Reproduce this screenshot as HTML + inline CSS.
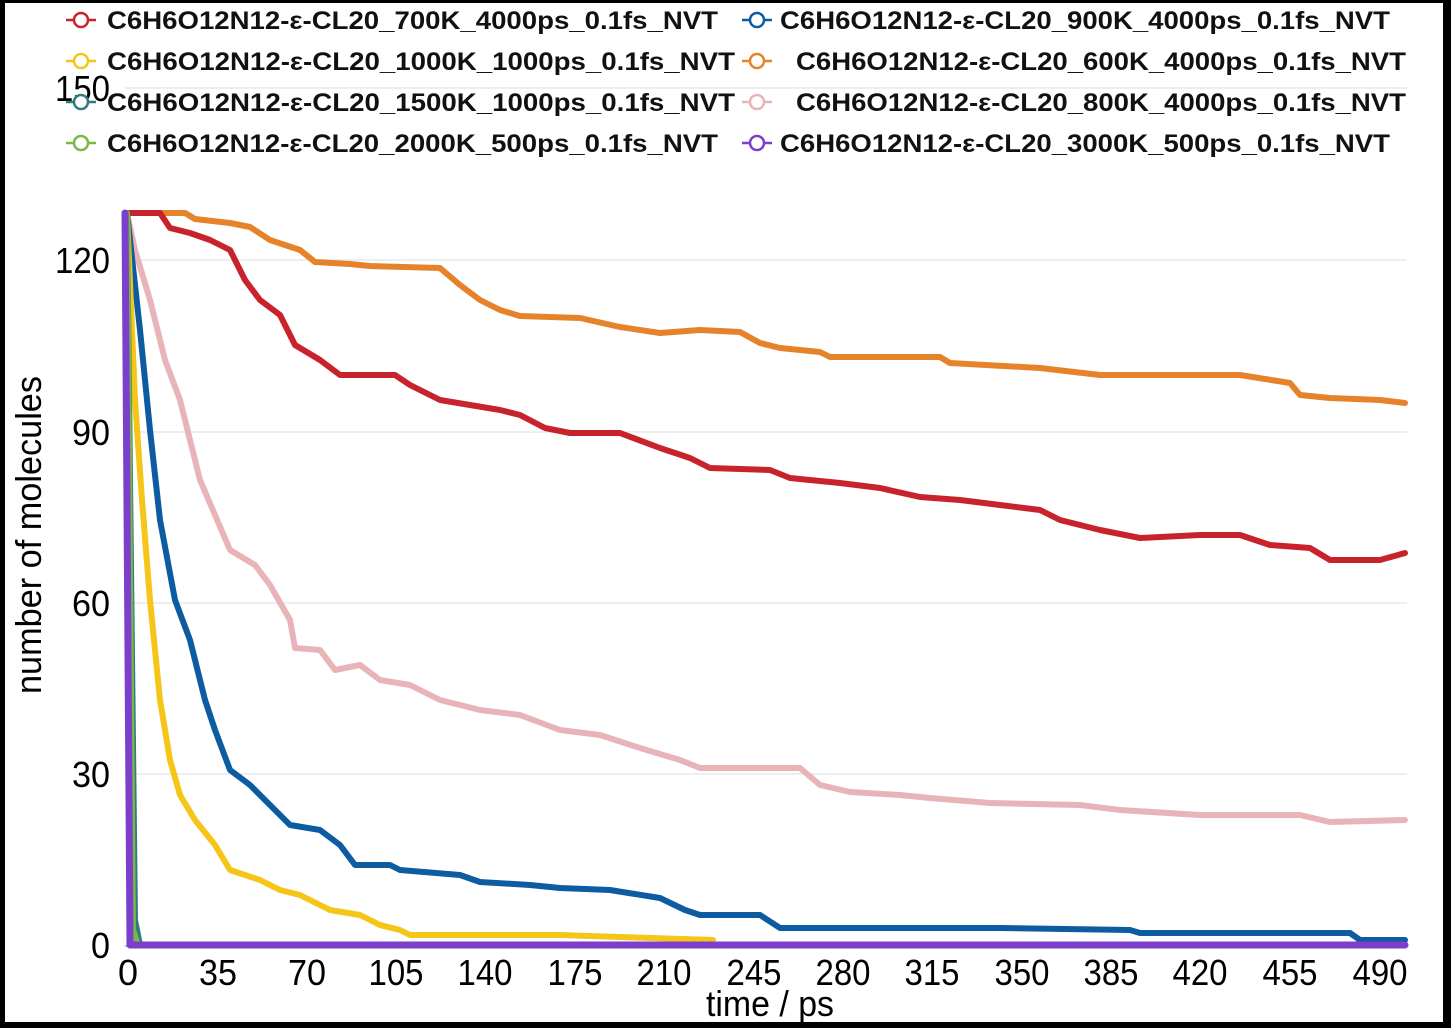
<!DOCTYPE html>
<html><head><meta charset="utf-8"><style>
html,body{margin:0;padding:0;background:#fff}
svg{display:block}
</style></head><body>
<svg width="1451" height="1028" viewBox="0 0 1451 1028" xmlns="http://www.w3.org/2000/svg">
<rect x="0" y="0" width="1451" height="1028" fill="#000"/>
<rect x="5" y="3" width="1438" height="1019" fill="#fff"/>
<g stroke="#e8e8ee" stroke-width="1.5">
<line x1="125" y1="88" x2="1407" y2="88"/>
<line x1="125" y1="260" x2="1407" y2="260"/>
<line x1="125" y1="432" x2="1407" y2="432"/>
<line x1="125" y1="603" x2="1407" y2="603"/>
<line x1="125" y1="774" x2="1407" y2="774"/>
</g>
<line x1="125" y1="946" x2="1407" y2="946" stroke="#aaa" stroke-width="1.5"/>
<g font-family="Liberation Sans, sans-serif" font-size="36" fill="#000" text-anchor="end">
<text x="110" y="101" textLength="55" lengthAdjust="spacingAndGlyphs">150</text>
<text x="110" y="273" textLength="55" lengthAdjust="spacingAndGlyphs">120</text>
<text x="110" y="445" textLength="38" lengthAdjust="spacingAndGlyphs">90</text>
<text x="110" y="616" textLength="38" lengthAdjust="spacingAndGlyphs">60</text>
<text x="110" y="787" textLength="38" lengthAdjust="spacingAndGlyphs">30</text>
<text x="110" y="958" textLength="19" lengthAdjust="spacingAndGlyphs">0</text>
</g>
<g font-family="Liberation Sans, sans-serif" font-size="36" fill="#000" text-anchor="middle">
<text x="128" y="985">0</text>
<text x="218" y="985" textLength="38" lengthAdjust="spacingAndGlyphs">35</text>
<text x="307" y="985" textLength="38" lengthAdjust="spacingAndGlyphs">70</text>
<text x="396" y="985" textLength="55" lengthAdjust="spacingAndGlyphs">105</text>
<text x="485" y="985" textLength="55" lengthAdjust="spacingAndGlyphs">140</text>
<text x="575" y="985" textLength="55" lengthAdjust="spacingAndGlyphs">175</text>
<text x="664" y="985" textLength="55" lengthAdjust="spacingAndGlyphs">210</text>
<text x="754" y="985" textLength="55" lengthAdjust="spacingAndGlyphs">245</text>
<text x="843" y="985" textLength="55" lengthAdjust="spacingAndGlyphs">280</text>
<text x="932" y="985" textLength="55" lengthAdjust="spacingAndGlyphs">315</text>
<text x="1022" y="985" textLength="55" lengthAdjust="spacingAndGlyphs">350</text>
<text x="1111" y="985" textLength="55" lengthAdjust="spacingAndGlyphs">385</text>
<text x="1200" y="985" textLength="55" lengthAdjust="spacingAndGlyphs">420</text>
<text x="1290" y="985" textLength="55" lengthAdjust="spacingAndGlyphs">455</text>
<text x="1380" y="985" textLength="55" lengthAdjust="spacingAndGlyphs">490</text>
<text x="770" y="1016" textLength="128" lengthAdjust="spacingAndGlyphs">time / ps</text>
<text transform="translate(41,535) rotate(-90)" textLength="318" lengthAdjust="spacingAndGlyphs">number of molecules</text>
</g>
<g fill="none" stroke-width="6" stroke-linejoin="round" stroke-linecap="round">
<polyline stroke="#e8b4b8" points="127,213 135,250 150,300 165,360 180,400 200,480 215,515 230,550 255,565 270,585 290,620 295,648 320,650 335,670 360,665 380,680 410,685 440,700 480,710 520,715 560,730 600,735 640,748 680,760 700,768 800,768 820,785 850,792 900,795 930,798 990,803 1080,805 1120,810 1200,815 1300,815 1330,822 1405,820"/>
<polyline stroke="#e6832a" points="127,213 185,213 195,219 230,223 250,227 270,240 300,250 315,262 350,264 370,266 440,268 460,285 480,300 500,310 520,316 580,318 620,327 660,333 700,330 740,332 760,343 780,348 820,352 830,357 940,357 950,363 1040,368 1100,375 1240,375 1290,383 1300,395 1330,398 1380,400 1405,403"/>
<polyline stroke="#c8232c" points="127,213 160,213 170,228 190,233 210,240 230,250 245,280 260,300 280,315 295,345 320,360 340,375 395,375 410,385 440,400 470,405 500,410 520,415 545,428 570,433 620,433 660,448 690,458 710,468 770,470 790,478 840,483 880,488 920,497 960,500 1000,505 1040,510 1060,520 1100,530 1140,538 1200,535 1240,535 1270,545 1310,548 1330,560 1380,560 1405,553"/>
<polyline stroke="#0d5ba1" points="127,213 140,330 150,430 160,520 175,600 190,640 205,700 215,730 230,770 250,785 270,805 290,825 320,830 340,845 355,865 390,865 400,870 460,875 480,882 530,885 560,888 610,890 660,898 685,910 700,915 760,915 780,928 1000,928 1130,930 1140,933 1350,933 1360,940 1405,940"/>
<polyline stroke="#f5c518" points="127,213 135,400 142,500 150,600 160,700 170,760 180,795 195,820 215,845 230,870 260,880 280,890 300,895 330,910 360,915 380,925 400,930 410,935 560,935 620,937 713,940"/>
<polyline stroke="#2f7b7e" points="127,213 135,920 140,945"/>
<polyline stroke="#7ab648" points="127,213 133,930 138,945"/>
<polyline stroke="#7b3fcc" stroke-width="7" points="125,213 130,945 1405,945"/>
</g>
<g font-family="Liberation Sans, sans-serif" font-weight="bold" font-size="25" fill="#111">
<g stroke-width="2.5" fill="#fff">
<line x1="66" y1="20" x2="96" y2="20" stroke="#c8232c"/><circle cx="81" cy="20" r="7" stroke="#c8232c"/>
<line x1="66" y1="61" x2="96" y2="61" stroke="#f5c518"/><circle cx="81" cy="61" r="7" stroke="#f5c518"/>
<line x1="66" y1="102" x2="96" y2="102" stroke="#2f7b7e"/><circle cx="81" cy="102" r="7" stroke="#2f7b7e"/>
<line x1="66" y1="143" x2="96" y2="143" stroke="#7ab648"/><circle cx="81" cy="143" r="7" stroke="#7ab648"/>
<line x1="742" y1="20" x2="772" y2="20" stroke="#0d5ba1"/><circle cx="757" cy="20" r="7" stroke="#0d5ba1"/>
<line x1="742" y1="61" x2="772" y2="61" stroke="#e6832a"/><circle cx="757" cy="61" r="7" stroke="#e6832a"/>
<line x1="742" y1="102" x2="772" y2="102" stroke="#e8b4b8"/><circle cx="757" cy="102" r="7" stroke="#e8b4b8"/>
<line x1="742" y1="143" x2="772" y2="143" stroke="#7b3fcc"/><circle cx="757" cy="143" r="7" stroke="#7b3fcc"/>
</g>
<text x="107" y="29" textLength="611" lengthAdjust="spacingAndGlyphs">C6H6O12N12-ε-CL20_700K_4000ps_0.1fs_NVT</text>
<text x="107" y="70" textLength="628" lengthAdjust="spacingAndGlyphs">C6H6O12N12-ε-CL20_1000K_1000ps_0.1fs_NVT</text>
<text x="107" y="111" textLength="628" lengthAdjust="spacingAndGlyphs">C6H6O12N12-ε-CL20_1500K_1000ps_0.1fs_NVT</text>
<text x="107" y="152" textLength="611" lengthAdjust="spacingAndGlyphs">C6H6O12N12-ε-CL20_2000K_500ps_0.1fs_NVT</text>
<text x="780" y="29" textLength="610" lengthAdjust="spacingAndGlyphs">C6H6O12N12-ε-CL20_900K_4000ps_0.1fs_NVT</text>
<text x="796" y="70" textLength="610" lengthAdjust="spacingAndGlyphs">C6H6O12N12-ε-CL20_600K_4000ps_0.1fs_NVT</text>
<text x="796" y="111" textLength="610" lengthAdjust="spacingAndGlyphs">C6H6O12N12-ε-CL20_800K_4000ps_0.1fs_NVT</text>
<text x="780" y="152" textLength="610" lengthAdjust="spacingAndGlyphs">C6H6O12N12-ε-CL20_3000K_500ps_0.1fs_NVT</text>
</g>
</svg>
</body></html>
